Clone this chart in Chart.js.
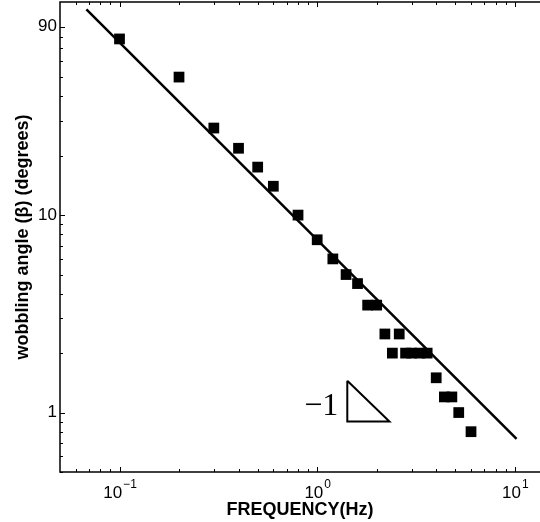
<!DOCTYPE html>
<html lang="en">
<head>
<meta charset="UTF-8">
<title>Wobbling angle vs frequency</title>
<script src="https://cdn.jsdelivr.net/npm/chart.js"></script>
<style>
  html, body { margin: 0; padding: 0; background: #fff; }
  canvas { display: block; }
</style>
</head>
<body>
<canvas id="chart" width="540" height="522"></canvas>
<script>
// measured points
var freq  = [0.1, 0.2, 0.3, 0.4, 0.5, 0.6, 0.8, 1.0, 1.2, 1.4, 1.6, 1.8, 2.0, 2.2, 2.6, 2.4, 2.8, 3.0, 3.3, 3.6, 4.0, 4.4, 4.8, 5.2, 6.0];
var angle = [78, 50, 27.6, 21.8, 17.5, 14, 10, 7.5, 6, 5, 4.5, 3.5, 3.5, 2.5, 2.5, 2, 2, 2, 2, 2, 1.5, 1.2, 1.2, 1.0, 0.8];

// slope -1 guide line
var fitX = [0.068, 10.2];
var fitY = [110, 0.735];

// little slope triangle
var triX = [1.42, 1.42, 2.32, 1.42];
var triY = [1.45, 0.90, 0.90, 1.45];
var triLabel = '\u22121';

// axis ticks
var xTickValues = [0.06, 0.07, 0.08, 0.09, 0.1, 0.2, 0.3, 0.4, 0.5, 0.6, 0.7, 0.8, 0.9, 1, 2, 3, 4, 5, 6, 7, 8, 9, 10];
var xTickLabels = { 0.1: '\u22121', 1: '0', 10: '1' };   // exponents of 10
var yTickValues = [0.5, 0.6, 0.7, 0.8, 0.9, 1, 2, 3, 4, 5, 6, 7, 8, 9, 10, 20, 30, 40, 50, 60, 70, 80, 90];
var yTickLabels = [1, 10, 90];

function pts(xs, ys) {
    return xs.map(function (x, i) { return { x: x, y: ys[i] }; });
}

function noPad(s) {
    s.paddingTop = 0; s.paddingBottom = 0; s.paddingLeft = 0; s.paddingRight = 0;
}

Chart.defaults.font.family = '"Liberation Sans", Arial, Helvetica, sans-serif';
Chart.defaults.color = '#000';

// ticks pointing inward, box lines and the 10^n labels
var axesPlugin = {
    id: 'matlabAxes',
    afterDraw: function (chart) {
        var ctx = chart.ctx, a = chart.chartArea;
        var xs = chart.scales.x, ys = chart.scales.y;
        ctx.save();
        ctx.strokeStyle = '#000';
        ctx.lineWidth = 1.5;
        ctx.beginPath();
        ctx.moveTo(a.right + 2, a.top); ctx.lineTo(a.left, a.top);
        ctx.lineTo(a.left, a.bottom); ctx.lineTo(a.right + 2, a.bottom);
        ctx.stroke();

        ctx.lineWidth = 1;
        ctx.beginPath();
        xTickValues.forEach(function (v) {
            var px = Math.round(xs.getPixelForValue(v)) + 0.5;
            var len = xTickLabels[v] ? 5 : 3;
            ctx.moveTo(px, a.bottom); ctx.lineTo(px, a.bottom - len);
            ctx.moveTo(px, a.top); ctx.lineTo(px, a.top + len);
        });
        yTickValues.forEach(function (v) {
            var py = Math.round(ys.getPixelForValue(v)) + 0.5;
            var len = yTickLabels.indexOf(v) >= 0 ? 5 : 3;
            ctx.moveTo(a.left, py); ctx.lineTo(a.left + len, py);
        });
        ctx.stroke();

        // x labels as 10 with a raised exponent
        ctx.fillStyle = '#000';
        ctx.textBaseline = 'alphabetic';
        ctx.textAlign = 'left';
        Object.keys(xTickLabels).forEach(function (k) {
            var px = xs.getPixelForValue(parseFloat(k));
            ctx.font = '17px "Liberation Sans", Arial, sans-serif';
            var wBase = ctx.measureText('10').width;
            ctx.font = '12px "Liberation Sans", Arial, sans-serif';
            var wExp = ctx.measureText(xTickLabels[k]).width;
            var x0 = px - (wBase + wExp) / 2;
            ctx.font = '17px "Liberation Sans", Arial, sans-serif';
            ctx.fillText('10', x0, a.bottom + 26);
            ctx.font = '12px "Liberation Sans", Arial, sans-serif';
            ctx.fillText(xTickLabels[k], x0 + wBase + 1, a.bottom + 16);
        });

        // slope label next to the triangle
        ctx.font = '32px "Liberation Serif", "DejaVu Serif", serif';
        ctx.textAlign = 'right';
        ctx.fillText(triLabel, xs.getPixelForValue(triX[0]) - 9, ys.getPixelForValue(triY[1]) - 7);
        ctx.restore();
    }
};

var ctx = document.getElementById('chart').getContext('2d');
var chart = new Chart(ctx, {
    type: 'scatter',
    data: {
        datasets: [{
            label: 'data',
            data: pts(freq, angle),
            pointStyle: 'rect',
            pointRadius: 7.6,
            pointBorderWidth: 0,
            backgroundColor: '#000',
            borderColor: '#000'
        }, {
            label: 'fit',
            type: 'line',
            data: pts(fitX, fitY),
            borderColor: '#000',
            borderWidth: 2.5,
            pointRadius: 0,
            fill: false
        }, {
            label: 'triangle',
            type: 'line',
            data: pts(triX, triY),
            borderColor: '#000',
            borderWidth: 2,
            pointRadius: 0,
            fill: false
        }]
    },
    options: {
        responsive: false,
        animation: false,
        devicePixelRatio: 1,
        layout: { autoPadding: false, padding: { top: 2, right: 0, bottom: 0, left: 0 } },
        plugins: { legend: { display: false }, tooltip: { enabled: false } },
        scales: {
            x: {
                type: 'logarithmic',
                min: 0.05,
                max: 13.4,
                grid: { display: false, drawTicks: false },
                border: { display: false },
                ticks: { display: false },
                afterBuildTicks: function (s) { s.ticks = xTickValues.map(function (v) { return { value: v }; }); },
                afterFit: function (s) { s.height = 50; noPad(s); },
                title: {
                    display: true,
                    text: 'FREQUENCY(Hz)',
                    font: { size: 18, weight: 'bold' },
                    padding: { top: 0, bottom: 1 }
                }
            },
            y: {
                type: 'logarithmic',
                min: 0.5,
                max: 120,
                grid: { display: false, drawTicks: false },
                border: { display: false },
                ticks: {
                    autoSkip: false,
                    padding: 3,
                    font: { size: 17 },
                    callback: function (v) { return yTickLabels.indexOf(v) >= 0 ? String(v) : ''; }
                },
                afterBuildTicks: function (s) { s.ticks = yTickValues.map(function (v) { return { value: v }; }); },
                afterFit: function (s) { s.width = 60; noPad(s); },
                title: {
                    display: true,
                    text: 'wobbling angle (\u03b2) (degrees)',
                    font: { size: 18, weight: 'bold' },
                    padding: { top: 12, bottom: 0 }
                }
            }
        }
    },
    plugins: [axesPlugin]
});
</script>
</body>
</html>
